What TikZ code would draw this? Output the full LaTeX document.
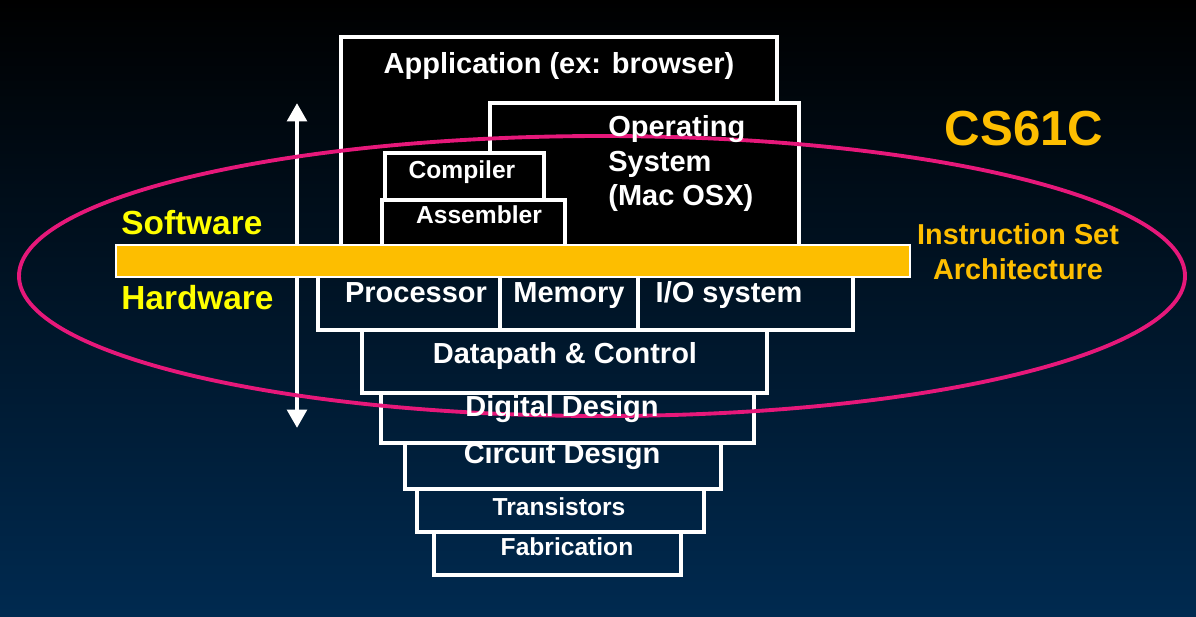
\documentclass[tikz,border=0pt]{standalone}
\usepackage{fontspec}
\setmainfont{Liberation Sans}
\usetikzlibrary{arrows.meta}
\definecolor{isagold}{RGB}{253,190,0}
\definecolor{ringpink}{RGB}{230,24,122}
\definecolor{deepnavy}{RGB}{0,42,80}
\definecolor{swyellow}{RGB}{255,255,0}

\begin{document}
\begin{tikzpicture}[
  x=0.02cm, y=-0.02cm,
  swlayer/.style={draw=white, line width=1.8pt, fill=black},
  hwlayer/.style={draw=white, line width=1.8pt},
  big/.style={text=white, font=\fontsize{16.5}{19.8}\selectfont\bfseries, inner sep=0pt, anchor=base},
  small/.style={text=white, font=\fontsize{14}{16.8}\selectfont\bfseries, inner sep=0pt, anchor=base},
  side/.style={text=swyellow, font=\fontsize{19}{22}\selectfont\bfseries, inner sep=0pt, anchor=base west},
  updown/.style={{Triangle[width=11pt,length=10.5pt]}-{Triangle[width=11pt,length=10.5pt]},
                 white, line width=2.8pt}
]
% background
\useasboundingbox (0,0) rectangle (1196,616);
\shade[top color=black, middle color=black, bottom color=deepnavy] (0,0) rectangle (1196,616);
% software/hardware arrow
\coordinate (up) at (297,103);
\coordinate (down) at (297,428);
\draw[updown] (up) -- (down);
% software layers
\draw[swlayer] (341,37) rectangle (777,252);
\draw[swlayer] (490,103) rectangle (799,252);
\draw[swlayer] (385,153) rectangle (544,200);
\draw[swlayer] (382,200) rectangle (565,252);
% hardware layers
\draw[hwlayer] (318,270) rectangle (500,330);
\draw[hwlayer] (500,270) rectangle (638,330);
\draw[hwlayer] (638,270) rectangle (853,330);
\draw[hwlayer] (362,330) rectangle (767,393);
\draw[hwlayer] (381,393) rectangle (754,443);
\draw[hwlayer] (405,443) rectangle (721,489);
\draw[hwlayer] (417,489) rectangle (704,532);
\draw[hwlayer] (434,532) rectangle (681,575);
% CS61C scope
\draw[ringpink, line width=2.2pt] (602,276) ellipse (583 and 140);
% instruction set architecture bar
\fill[isagold, draw=white, line width=0.8pt] (116,245) rectangle (910,277);
% labels
\node[big] (app) at (559,73) {Application (ex: browser)};
\node[big, align=left, anchor=north west] (os) at (608,115) {Operating\\System\\(Mac OSX)};
\node[small] (comp) at (462,178) {Compiler};
\node[small] (asm) at (479,223) {Assembler};
\node[big] (proc) at (416,302) {Processor};
\node[big] (mem) at (569,302) {Memory};
\node[big] (io) at (729,302) {I/O system};
\node[big] (dpc) at (565,363) {Datapath \& Control};
\node[big] (dig) at (562,416) {Digital Design};
\node[big] (circ) at (562,463) {Circuit Design};
\node[small] (trans) at (559,515) {Transistors};
\node[small] (fab) at (567,555) {Fabrication};
\node[side] (sw) at (121,234) {Software};
\node[side] (hw) at (121,309) {Hardware};
\node[text=isagold, font=\fontsize{28}{32}\selectfont\bfseries, inner sep=0pt, anchor=base] (cs) at (1024,145) {CS61C};
\node[text=isagold, font=\fontsize{16.4}{19.8}\selectfont\bfseries, inner sep=0pt, align=center, anchor=north] (isa) at (1018,223) {Instruction Set\\Architecture};
\end{tikzpicture}
\end{document}
